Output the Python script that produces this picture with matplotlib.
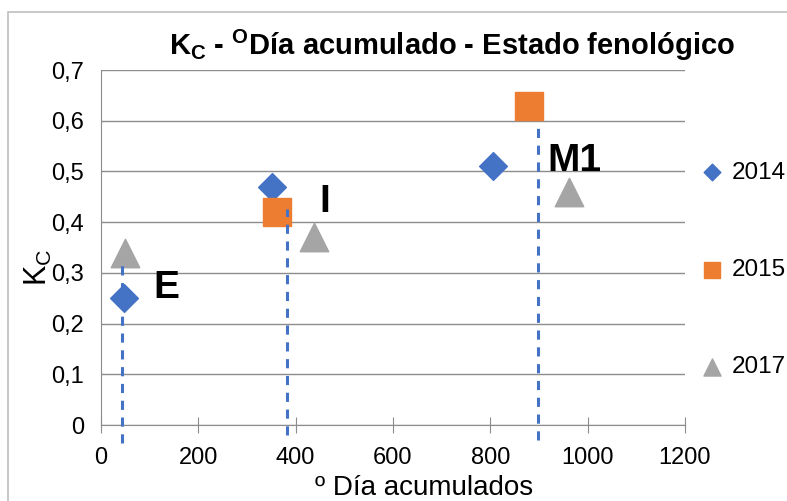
import matplotlib.pyplot as plt
from matplotlib.patches import Rectangle
from matplotlib.ticker import FuncFormatter

plt.rcParams['font.family'] = ['Liberation Sans', 'DejaVu Sans']

# data
years = ['2014', '2015', '2017']
x_2014 = [47, 352, 805]
kc_2014 = [0.25, 0.47, 0.51]
x_2015 = [362, 880]
kc_2015 = [0.42, 0.63]
x_2017 = [49, 438, 962]
kc_2017 = [0.34, 0.37, 0.46]

# phenological stage marks
stages = ['E', 'I', 'M1']
stage_x = [43, 382, 897]
stage_top = [0.315, 0.425, 0.585]
stage_bottom = [-0.035, -0.02, -0.03]
label_x = [108, 448, 918]
label_y = [0.27, 0.44, 0.52]

fig = plt.figure(figsize=(7.87, 5.01), dpi=100)
ax = fig.add_axes([101 / 787, 1 - 425 / 501, 584 / 787, 355 / 501])

# outer chart border
fig.patches.append(Rectangle((8 / 787, -0.1), 1.2, 1 - 12 / 501 + 0.1,
                             transform=fig.transFigure, fill=False,
                             edgecolor='#bfbfbf', linewidth=1.2))

ax.scatter(x_2014, kc_2014, marker='D', s=200, color='#4472c4', label=years[0], zorder=3)
ax.scatter(x_2015, kc_2015, marker='s', s=400, color='#ed7d31', label=years[1], zorder=3)
ax.scatter(x_2017, kc_2017, marker='^', s=420, color='#a5a5a5', label=years[2], zorder=3)

for sx, top, bot in zip(stage_x, stage_top, stage_bottom):
    ax.plot([sx, sx], [bot, top], color='#4472c4', lw=2.2, ls=(0, (3, 2.5)),
            clip_on=False, zorder=4)
for s, lx, ly in zip(stages, label_x, label_y):
    ax.text(lx, ly, s, fontsize=28, fontweight='bold', ha='left', va='center')

ax.set_xlim(0, 1200)
ax.set_ylim(0, 0.7)
ax.set_xticks(range(0, 1201, 200))
ax.set_yticks([i / 10 for i in range(8)])
ax.yaxis.set_major_formatter(FuncFormatter(lambda v, p: ('%.1f' % v).replace('.', ',') if v > 0 else '0'))
ax.grid(axis='y', color='#8c8c8c', lw=1)
ax.set_axisbelow(True)
for sp in ['top', 'right']:
    ax.spines[sp].set_visible(False)
ax.spines['left'].set_color('#8c8c8c')
ax.spines['bottom'].set_color('#8c8c8c')
ax.tick_params(axis='x', direction='inout', length=12, color='#8c8c8c', labelsize=17, pad=10)
ax.tick_params(axis='y', length=0, labelsize=17, pad=12)

ax.set_xlabel('º Día acumulados', fontsize=20, va='center')
ax.xaxis.set_label_coords((424 - 101) / 584, -63 / 355)
ax.set_ylabel('K$_\\mathregular{C}$', fontsize=22, va='center')
ax.yaxis.set_label_coords(-63 / 584, 158 / 355)
fig.text(452 / 787, 1 - 45 / 501, 'K$_\\mathregular{C}$ - $^\\mathregular{O}$Día acumulado - Estado fenológico',
         fontsize=21, fontweight='bold', ha='center', va='center')

fig.legend(loc='center left', bbox_to_anchor=(700 / 787, 1 - 270 / 501), frameon=False,
           fontsize=17.5, labelspacing=3.1, handlelength=1.0, handletextpad=0.3,
           borderaxespad=0, borderpad=0, markerscale=0.6)

fig.savefig('out.png', dpi=100)
